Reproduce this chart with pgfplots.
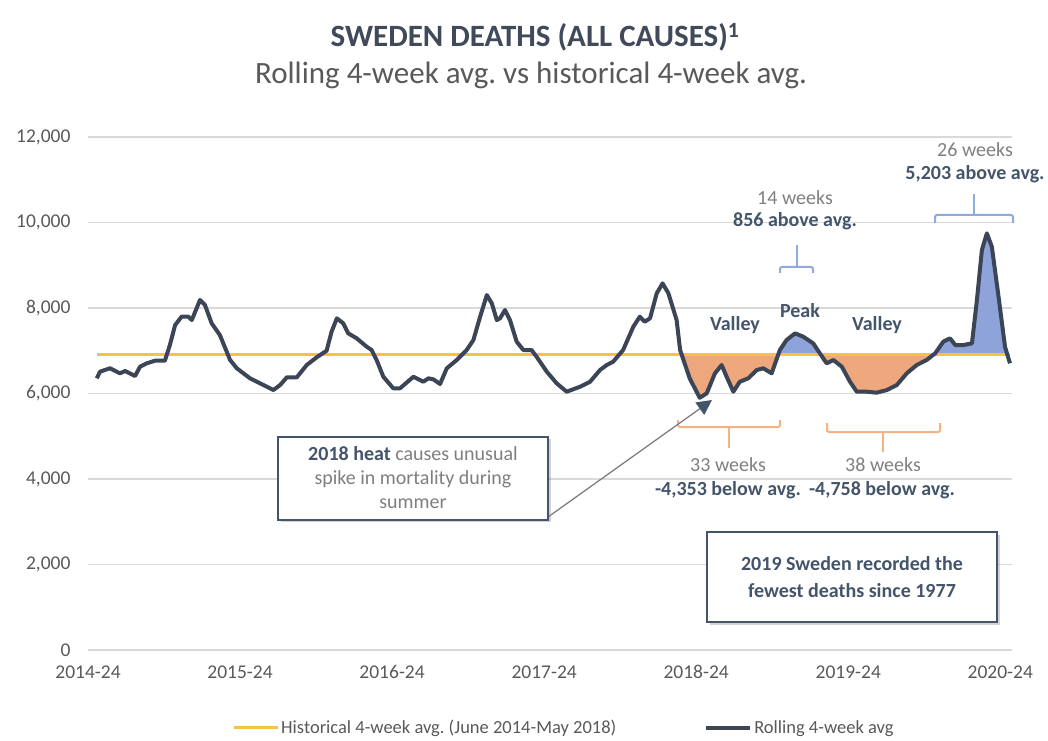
\documentclass[border=0pt]{standalone}
\usepackage{fontspec}
\setmainfont{Carlito}
\usepackage{pgfplots}
\usepackage{pgfplotstable}
\pgfplotsset{compat=1.18}
\usetikzlibrary{arrows.meta,shadows}
\frenchspacing
\definecolor{linec}{HTML}{3B4556}
\definecolor{avgc}{HTML}{F5C342}
\definecolor{orangef}{HTML}{EFA87E}
\definecolor{bluef}{HTML}{8EA3D9}
\definecolor{bracketb}{HTML}{8FAADC}
\definecolor{bracketo}{HTML}{F4B183}
\definecolor{darkt}{HTML}{44546A}
\definecolor{titlec}{HTML}{404A5A}
\definecolor{grayt}{HTML}{595959}
\definecolor{lgrayt}{HTML}{7F7F7F}
\definecolor{gridc}{HTML}{D9D9D9}

\pgfplotstableread{
w v
3.0 6355
4.1 6510
7.5 6590
10.9 6472
12.7 6526
16.1 6409
17.8 6627
20.1 6706
22.9 6767
26.3 6767
28.0 7134
29.8 7602
32.0 7796
34.3 7796
35.5 7719
38.3 8187
40.0 8070
42.3 7641
45.1 7368
48.6 6783
50.9 6590
55.4 6355
60.0 6198
63.4 6081
65.7 6198
68.0 6378
71.4 6378
74.8 6666
78.2 6846
81.6 7001
83.3 7446
85.1 7758
87.3 7641
89.0 7407
91.9 7290
95.3 7095
97.0 7017
98.7 6783
101.0 6392
104.4 6121
106.7 6121
111.3 6392
114.7 6275
116.4 6355
118.1 6331
120.4 6222
122.7 6590
126.1 6783
129.5 7017
131.8 7251
134.1 7796
136.4 8303
138.1 8109
139.8 7719
140.9 7758
142.6 7953
144.3 7719
146.6 7212
148.9 7017
151.7 7017
153.4 6861
156.9 6510
160.3 6237
163.7 6042
168.3 6159
171.7 6275
175.1 6549
177.4 6666
179.6 6744
183.0 7017
186.5 7563
188.7 7796
190.4 7680
192.2 7758
194.5 8343
196.5 8577
198.5 8343
201.3 7719
202.5 7017
205.8 6350
209.2 5900
211.6 6004
214.4 6472
216.7 6666
218.4 6392
220.7 6042
222.9 6275
225.8 6355
228.7 6549
230.9 6590
233.8 6472
236.6 7017
238.9 7251
241.8 7407
244.6 7329
248.0 7173
250.3 6939
252.6 6706
254.9 6783
257.8 6627
260.6 6275
262.9 6042
266.3 6042
269.7 6019
273.2 6081
276.6 6198
280.0 6472
283.4 6666
286.8 6783
289.7 6939
292.5 7212
294.8 7290
296.6 7134
299.4 7134
302.3 7173
304.0 8187
305.7 9357
307.4 9746
309.1 9434
311.4 8264
313.6 7095
315.3 6706
}\deaths

\begin{document}
\begin{tikzpicture}
\useasboundingbox (0,0) rectangle (1048pt,740pt);
\begin{axis}[
  at={(88pt,90pt)}, anchor=south west,
  scale only axis, width=924pt, height=513pt,
  xmin=0, xmax=316, ymin=0, ymax=12000,
  xtick={0,52,104,156,208,260,312},
  xticklabels={2014-24,2015-24,2016-24,2017-24,2018-24,2019-24,2020-24},
  ytick={0,2000,4000,6000,8000,10000,12000},
  scaled y ticks=false,
  yticklabel={\pgfmathprintnumber[fixed,precision=0,1000 sep={,}]{\tick}},
  ymajorgrids, grid style={gridc, line width=1.5pt},
  axis line style={draw=none}, tick style={draw=none},
  tick label style={font=\fontsize{19.5}{22}\selectfont, text=grayt},
  yticklabel style={xshift=-14pt},
  xticklabel style={yshift=-12pt},
  /pgf/number format/assume math mode=true,
  legend style={at={(0.515,-0.152)}, anchor=center, draw=none, fill=none,
    font=\fontsize{18.5}{21}\selectfont, text=grayt, legend columns=2,
    /tikz/every even column/.append style={column sep=86pt}},
  legend image code/.code={\draw[#1] (0pt,0pt) -- (44pt,0pt);},
]
% shaded deviation areas (below = orange, above = blue)
\addplot[fill=orangef, draw=none, forget plot] coordinates {
 (203.0,6915) (205.8,6350) (209.2,5900) (211.6,6004) (214.4,6472) (216.7,6666)
 (218.4,6392) (220.7,6042) (222.9,6275) (225.8,6355) (228.7,6549) (230.9,6590)
 (233.8,6472) (236.1,6915)} -- cycle;
\addplot[fill=bluef, draw=none, forget plot] coordinates {
 (236.1,6915) (236.6,7017) (238.9,7251) (241.8,7407) (244.6,7329) (248.0,7173)
 (250.3,6939) (250.5,6915)} -- cycle;
\addplot[fill=orangef, draw=none, forget plot] coordinates {
 (250.5,6915) (252.6,6706) (254.9,6783) (257.8,6627) (260.6,6275) (262.9,6042)
 (266.3,6042) (269.7,6019) (273.2,6081) (276.6,6198) (280.0,6472) (283.4,6666)
 (286.8,6783) (289.3,6915)} -- cycle;
\addplot[fill=bluef, draw=none, forget plot] coordinates {
 (289.3,6915) (289.7,6939) (292.5,7212) (294.8,7290) (296.6,7134) (299.4,7134)
 (302.3,7173) (304.0,8187) (305.7,9357) (307.4,9746) (309.1,9434) (311.4,8264)
 (313.6,7095) (314.4,6915)} -- cycle;
\addplot[avgc, line width=3pt] coordinates {(3.0,6915) (315.3,6915)};
\addlegendentry{Historical 4-week avg. (June 2014-May 2018)}
\addplot[linec, line width=4pt, line join=round] table[x=w,y=v]{\deaths};
\addlegendentry{Rolling 4-week avg}
\end{axis}

% titles
\node[font=\bfseries\fontsize{31}{36}\selectfont, text=titlec] at (535pt,703pt) {SWEDEN DEATHS (ALL CAUSES)\textsuperscript{1}};
\node[font=\fontsize{31}{36}\selectfont, text=grayt] at (531pt,665pt) {Rolling 4-week avg. vs historical 4-week avg.};

% labels
\node[font=\bfseries\fontsize{20}{24}\selectfont, text=darkt] at (735pt,415pt) {Valley};
\node[font=\bfseries\fontsize{20}{24}\selectfont, text=darkt] at (800pt,429pt) {Peak};
\node[font=\bfseries\fontsize{20}{24}\selectfont, text=darkt] at (877pt,415pt) {Valley};

% blue brackets
\draw[bracketb, line width=2pt, rounded corners=2pt] (780pt,467pt) -- (780pt,473pt) -- (813pt,473pt) -- (813pt,467pt);
\draw[bracketb, line width=2pt] (796.5pt,473pt) -- (796.5pt,495pt);
\draw[bracketb, line width=2pt, rounded corners=2pt] (935pt,517pt) -- (935pt,525pt) -- (1013pt,525pt) -- (1013pt,517pt);
\draw[bracketb, line width=2pt] (974pt,525pt) -- (974pt,546pt);
\node[font=\fontsize{20}{24}\selectfont, text=lgrayt] at (795pt,542pt) {14 weeks};
\node[font=\bfseries\fontsize{20}{24}\selectfont, text=darkt] at (795pt,519pt) {856 above avg.};
\node[font=\fontsize{20}{24}\selectfont, text=lgrayt] at (975pt,590pt) {26 weeks};
\node[font=\bfseries\fontsize{20}{24}\selectfont, text=darkt] at (975pt,566pt) {5,203 above avg.};

% orange brackets
\draw[bracketo, line width=2pt, rounded corners=2pt] (678pt,320pt) -- (678pt,313pt) -- (780pt,313pt) -- (780pt,320pt);
\draw[bracketo, line width=2pt] (729pt,313pt) -- (729pt,292pt);
\draw[bracketo, line width=2pt, rounded corners=2pt] (827pt,317pt) -- (827pt,308pt) -- (940pt,308pt) -- (940pt,317pt);
\draw[bracketo, line width=2pt] (883pt,308pt) -- (883pt,288pt);
\node[font=\fontsize{20}{24}\selectfont, text=lgrayt] at (728pt,275pt) {33 weeks};
\node[font=\fontsize{20}{24}\selectfont, text=lgrayt] at (883pt,275pt) {38 weeks};
\node[font=\bfseries\fontsize{20}{24}\selectfont, text=darkt] at (728pt,250pt) {-4,353 below avg.};
\node[font=\bfseries\fontsize{20}{24}\selectfont, text=darkt] at (882pt,250pt) {-4,758 below avg.};

% arrow and boxes
\draw[lgrayt, line width=1.3pt, -{Triangle[length=15pt,width=15pt,color=darkt]}] (548pt,223pt) -- (712pt,340pt);
\node[draw=darkt, line width=2pt, fill=white, drop shadow={opacity=0.35, shadow xshift=2.5pt, shadow yshift=-2.5pt},
  minimum width=270pt, minimum height=83pt, align=center, text=lgrayt,
  font=\fontsize{20}{24}\selectfont] at (413pt,262pt)
  {{\color{darkt}\bfseries 2018 heat} causes unusual\\spike in mortality during\\summer};
\node[draw=darkt, line width=2pt, fill=white, drop shadow={opacity=0.35, shadow xshift=2.5pt, shadow yshift=-2.5pt},
  minimum width=290pt, minimum height=90pt, align=center, text=darkt,
  font=\bfseries\fontsize{20}{27}\selectfont] at (852pt,163pt)
  {2019 Sweden recorded the\\fewest deaths since 1977};
\end{tikzpicture}
\end{document}
